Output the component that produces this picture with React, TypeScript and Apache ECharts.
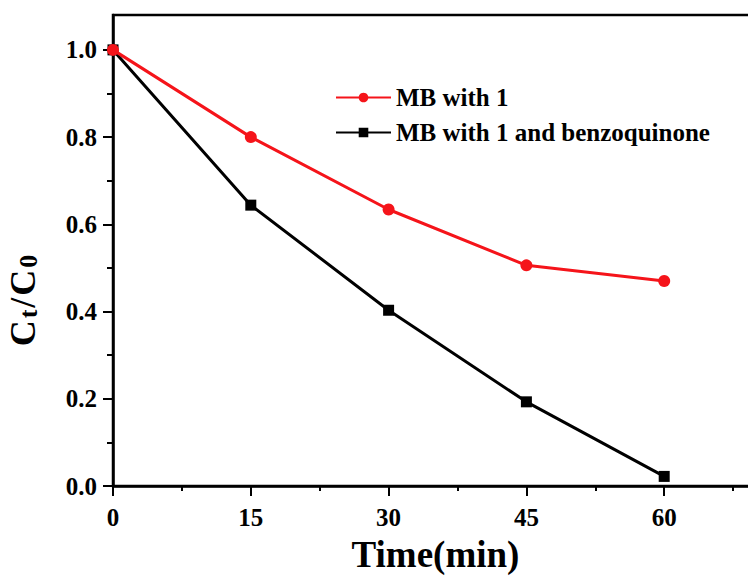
import React, { useEffect, useRef } from "react";
import * as echarts from "echarts";

const times = [0, 15, 30, 45, 60];
const mbWith1 = [1.0, 0.8, 0.634, 0.506, 0.47];
const mbWith1Bq = [1.0, 0.644, 0.403, 0.193, 0.022];
const xMajor = [0, 15, 30, 45, 60];
const yMajor = [0, 0.2, 0.4, 0.6, 0.8, 1.0];
const yMinor = [0.1, 0.3, 0.5, 0.7, 0.9];
const seriesNames = ["MB with 1", "MB with 1 and benzoquinone"];

const FONT = "'Liberation Serif', 'Times New Roman', serif";
const RED = "#f5141a";

export default function App() {
  const ref = useRef<HTMLDivElement>(null);
  useEffect(() => {
    if (!ref.current) return;
    const chart = echarts.init(ref.current, null, { renderer: "svg" });
    const axisLine = { show: true, onZero: false, lineStyle: { color: "#000", width: 2.5 } };
    const labelStyle = { fontFamily: FONT, fontSize: 25, fontWeight: "bold", color: "#000" };
    chart.setOption({
      animation: false,
      backgroundColor: "#fff",
      grid: {
        left: 113,
        top: 15,
        right: 18,
        bottom: 90,
        containLabel: false,
        outerBoundsMode: "none",
        show: true,
        borderColor: "#000",
        borderWidth: 2.5,
        backgroundColor: "transparent",
      },
      legend: {
        orient: "vertical",
        left: 330,
        top: 80,
        itemWidth: 55,
        itemHeight: 12,
        itemGap: 10,
        data: seriesNames,
        textStyle: { fontFamily: FONT, fontSize: 25, fontWeight: "bold", color: "#000", lineHeight: 24 },
      },
      xAxis: [
        {
          type: "value",
          min: 0,
          max: 75,
          interval: 15,
          axisLine,
          axisTick: { show: true, inside: false, length: 10, lineStyle: { color: "#000", width: 2 } },
          minorTick: { show: true, splitNumber: 2, length: 5, lineStyle: { color: "#000", width: 2 } },
          splitLine: { show: false },
          axisLabel: {
            customValues: xMajor,
            margin: 19,
            ...labelStyle,
          },
          name: "Time(min)",
          nameLocation: "middle",
          nameGap: 50,
          nameTextStyle: {
            fontFamily: FONT,
            fontSize: 37,
            fontWeight: "bold",
            color: "#000",
            lineHeight: 37,
            padding: [0, 44, 0, 0],
          },
        },
      ],
      yAxis: [
        {
          type: "value",
          min: 0,
          max: 1.08,
          interval: 0.2,
          position: "left",
          axisLine,
          axisTick: { show: true, customValues: yMajor, length: 10, lineStyle: { color: "#000", width: 2 } },
          splitLine: { show: false },
          axisLabel: {
            customValues: yMajor,
            formatter: (v: number) => v.toFixed(1),
            margin: 16,
            ...labelStyle,
          },
          name: "{a|C}{b|t}{a|/}{a|C}{b|0}",
          nameLocation: "middle",
          nameGap: 72,
          nameTextStyle: {
            fontFamily: FONT,
            fontWeight: "bold",
            color: "#000",
            padding: [0, 100, 0, 0],
            rich: {
              a: { fontFamily: FONT, fontSize: 36, fontWeight: "bold", color: "#000", padding: [0, 1, 0, 1] },
              b: {
                fontFamily: FONT,
                fontSize: 26,
                fontWeight: "bold",
                color: "#000",
                verticalAlign: "bottom",
                padding: [10, 1, 0, 1],
              },
            },
          },
        },
        {
          type: "value",
          min: 0,
          max: 1.08,
          position: "left",
          offset: 0,
          axisLine: { show: false, onZero: false },
          axisTick: { show: true, customValues: yMinor, length: 6, lineStyle: { color: "#000", width: 2 } },
          axisLabel: { show: false },
          splitLine: { show: false },
        },
      ],
      series: [
        {
          name: seriesNames[1],
          type: "line",
          data: times.map((t, i) => [t, mbWith1Bq[i]]),
          symbol: "rect",
          symbolSize: 11,
          color: "#000",
          lineStyle: { color: "#000", width: 3 },
          itemStyle: { color: "#000" },
          z: 2,
        },
        {
          name: seriesNames[0],
          type: "line",
          data: times.map((t, i) => [t, mbWith1[i]]),
          symbol: "circle",
          symbolSize: 12,
          color: RED,
          lineStyle: { color: RED, width: 3 },
          itemStyle: { color: RED },
          z: 3,
        },
      ],
    });
    return () => chart.dispose();
  }, []);
  return (
    <div
      style={{
        position: "absolute",
        left: 0,
        top: 0,
        width: 748,
        height: 576,
        overflow: "hidden",
        background: "#fff",
      }}
    >
      <div ref={ref} style={{ width: 820, height: 576 }} />
    </div>
  );
}
